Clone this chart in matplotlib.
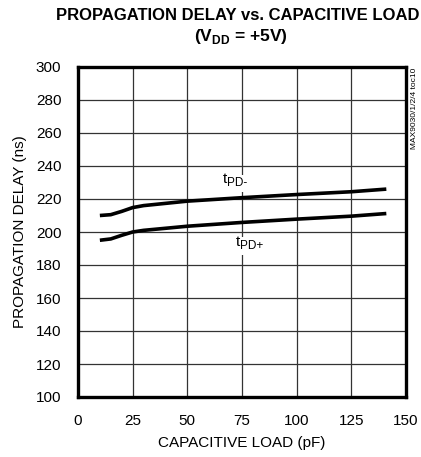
import matplotlib
matplotlib.use('Agg')
import matplotlib.pyplot as plt

# 数据
load_pf = [10, 15, 20, 25, 30, 50, 75, 100, 125, 141]
tpd_minus = [210, 210.5, 212.5, 214.8, 216, 218.7, 220.8, 222.7, 224.4, 226]
tpd_plus = [195, 195.8, 198, 200, 201, 203.5, 205.8, 207.8, 209.6, 211.2]

x_ticks = [0, 25, 50, 75, 100, 125, 150]
y_ticks = [100, 120, 140, 160, 180, 200, 220, 240, 260, 280, 300]

font = 'Liberation Sans'
plt.rcParams['font.family'] = [font, 'DejaVu Sans']
plt.rcParams['mathtext.fontset'] = 'custom'
plt.rcParams['mathtext.rm'] = font
plt.rcParams['mathtext.bf'] = font + ':bold'

fig = plt.figure(figsize=(4.21, 4.57), dpi=100)
ax = fig.add_axes([78 / 421, 1 - 397 / 457, 328 / 421, 330 / 457])

ax.plot(load_pf, tpd_minus, color='black', lw=2.6, solid_capstyle='butt', zorder=3)
ax.plot(load_pf, tpd_plus, color='black', lw=2.6, solid_capstyle='butt', zorder=3)

ax.set_xlim(0, 150)
ax.set_ylim(100, 300)
ax.set_xticks(x_ticks)
ax.set_yticks(y_ticks)
ax.grid(True, color='#333333', lw=0.9)
ax.tick_params(length=0, labelsize=11, pad=12)
for s in ax.spines.values():
    s.set_linewidth(2.4)

ax.set_xlabel('CAPACITIVE LOAD (pF)', fontsize=11, labelpad=6)
ax.set_ylabel('PROPAGATION DELAY (ns)', fontsize=11, labelpad=6)

# 曲线标签: "t" + 下标 (带白底, 遮住网格线)
for (lx, ly, sub) in [(66, 232, 'PD-'), (72, 194, 'PD+')]:
    ax.annotate(sub, (lx, ly), xytext=(3.6, -3), textcoords='offset points',
                fontsize=8.5, ha='left', va='center', zorder=2,
                bbox=dict(facecolor='white', edgecolor='none', pad=2))
    ax.text(lx, ly, 't', fontsize=11, ha='left', va='center', zorder=2,
            bbox=dict(facecolor='white', edgecolor='none', pad=0.4))

# 标题
fig.text(238 / 421, 1 - 15 / 457, 'PROPAGATION DELAY vs. CAPACITIVE LOAD',
         fontsize=12, fontweight='bold', ha='center', va='center')
fig.text(241 / 421, 1 - 36 / 457, r'(V$_{\mathbf{DD}}$ = +5V)',
         fontsize=12.5, fontweight='bold', ha='center', va='center')

fig.text(414 / 421, 1 - 68 / 457, 'MAX9030/1/2/4 toc10', fontsize=6,
         rotation=90, ha='center', va='top')

fig.savefig('out.png', dpi=100)
